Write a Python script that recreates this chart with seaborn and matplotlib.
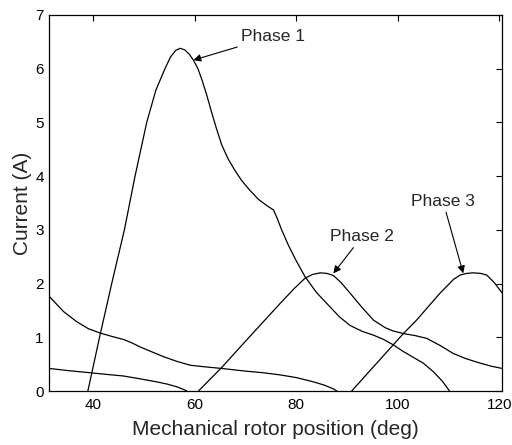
import matplotlib
matplotlib.use("Agg")
import matplotlib.pyplot as plt
import numpy as np
import pandas as pd
import seaborn as sns

# Phase currents versus mechanical rotor position
phase1_x = [38.9, 41.2, 43.6, 46.1, 48.2, 50.5, 52.3, 54.1, 55.2, 56.2, 57.1, 58.0,
            58.9, 59.7, 60.6, 61.4, 62.3, 63.2, 64.2, 65.3, 66.5, 67.8, 69.2, 70.8,
            72.5, 74.2, 75.5, 76.2, 77.1, 78.5, 80.0, 81.7, 84.0, 86.6, 88.5, 90.6,
            93.0, 95.2, 97.2, 99.1, 101.0, 103.0, 105.0, 107.0, 108.8, 110.2]
phase1_y = [0.0, 1.0, 2.0, 3.0, 4.0, 5.0, 5.6, 6.0, 6.22, 6.34, 6.38, 6.35,
            6.27, 6.16, 6.0, 5.79, 5.52, 5.22, 4.90, 4.58, 4.33, 4.12, 3.92, 3.74,
            3.57, 3.45, 3.37, 3.22, 3.0, 2.7, 2.42, 2.13, 1.83, 1.57, 1.38, 1.22,
            1.11, 1.04, 0.96, 0.86, 0.74, 0.63, 0.52, 0.36, 0.18, 0.0]

phase2_x = [60.7, 65.3, 70.0, 76.8, 79.5, 81.7, 83.2, 84.7, 86.0, 87.3, 88.8, 90.6,
            93.0, 95.2, 97.5, 99.0, 101.1, 103.5, 105.7, 108.3, 110.9, 113.5, 116.2,
            118.5, 120.6]
phase2_y = [0.0, 0.44, 0.93, 1.63, 1.90, 2.10, 2.17, 2.20, 2.19, 2.15, 2.02, 1.82,
            1.55, 1.32, 1.18, 1.12, 1.07, 1.03, 0.98, 0.85, 0.70, 0.60, 0.52,
            0.46, 0.42]

phase3_x = [90.9, 95.0, 99.1, 101.1, 103.7, 108.3, 111.0, 112.3, 113.6, 114.9,
            116.3, 117.5, 119.0, 120.6]
phase3_y = [0.0, 0.43, 0.86, 1.07, 1.32, 1.82, 2.08, 2.16, 2.19, 2.20,
            2.19, 2.16, 2.02, 1.82]

# Tails of the previous strokes of phases 3 and 2
phase3_tail_x = [31.3, 34.1, 36.7, 39.0, 41.3, 43.5, 45.9, 47.5, 49.2, 51.5, 53.8,
                 56.5, 59.1, 62.0, 65.3, 70.0, 73.5, 76.8, 80.0, 83.4, 85.5, 87.3, 88.0]
phase3_tail_y = [1.76, 1.48, 1.29, 1.16, 1.08, 1.02, 0.96, 0.90, 0.82, 0.73, 0.64,
                 0.55, 0.48, 0.45, 0.42, 0.37, 0.34, 0.30, 0.25, 0.17, 0.11, 0.04, 0.0]

phase2_tail_x = [31.3, 35.0, 39.4, 42.5, 45.9, 49.0, 52.5, 54.5, 56.4, 58.0, 58.4]
phase2_tail_y = [0.42, 0.38, 0.34, 0.31, 0.28, 0.23, 0.17, 0.13, 0.08, 0.02, 0.0]

x_ticks = [40, 60, 80, 100, 120]
y_ticks = [0, 1, 2, 3, 4, 5, 6, 7]

segments = [
    ("Phase 1", phase1_x, phase1_y),
    ("Phase 2", phase2_x, phase2_y),
    ("Phase 3", phase3_x, phase3_y),
    ("Phase 3 tail", phase3_tail_x, phase3_tail_y),
    ("Phase 2 tail", phase2_tail_x, phase2_tail_y),
]
df = pd.concat(
    [pd.DataFrame({"segment": name, "position": xs, "current": ys})
     for name, xs, ys in segments],
    ignore_index=True,
)

sns.set_theme(style="white")
plt.rcParams["font.family"] = ["Liberation Sans", "DejaVu Sans"]

fig = plt.figure(figsize=(5.12, 4.45), dpi=100)
ax = fig.add_axes([0.0963, 0.1213, 0.8848, 0.845])

sns.lineplot(data=df, x="position", y="current", units="segment", estimator=None,
             sort=False, color="black", linewidth=0.9, ax=ax)

ax.set_xlim(31.3, 120.6)
ax.set_ylim(0, 7)
ax.set_xticks(x_ticks)
ax.set_yticks(y_ticks)
ax.tick_params(direction="in", length=4, width=0.8, colors="black",
               top=True, right=True, labelsize=11)
ax.tick_params(axis="x", pad=5)
ax.tick_params(axis="y", pad=4)
for s in ax.spines.values():
    s.set_color("black")
    s.set_linewidth(0.9)

ax.set_xlabel("Mechanical rotor position (deg)", fontsize=15, labelpad=6)
ax.set_ylabel("Current (A)", fontsize=15, labelpad=2)

arrow = dict(arrowstyle="-|>", color="black", lw=0.8, mutation_scale=11,
             shrinkA=0, shrinkB=0)
ax.annotate("Phase 1", xy=(59.7, 6.16), xytext=(69.0, 6.6),
            fontsize=12.5, ha="left", va="center", arrowprops=arrow)
ax.annotate("Phase 2", xy=(87.3, 2.19), xytext=(92.9, 2.87),
            fontsize=12.5, ha="center", va="center", arrowprops=arrow)
ax.annotate("Phase 3", xy=(112.9, 2.19), xytext=(108.9, 3.53),
            fontsize=12.5, ha="center", va="center", arrowprops=arrow)

fig.savefig("out.png", dpi=100)
